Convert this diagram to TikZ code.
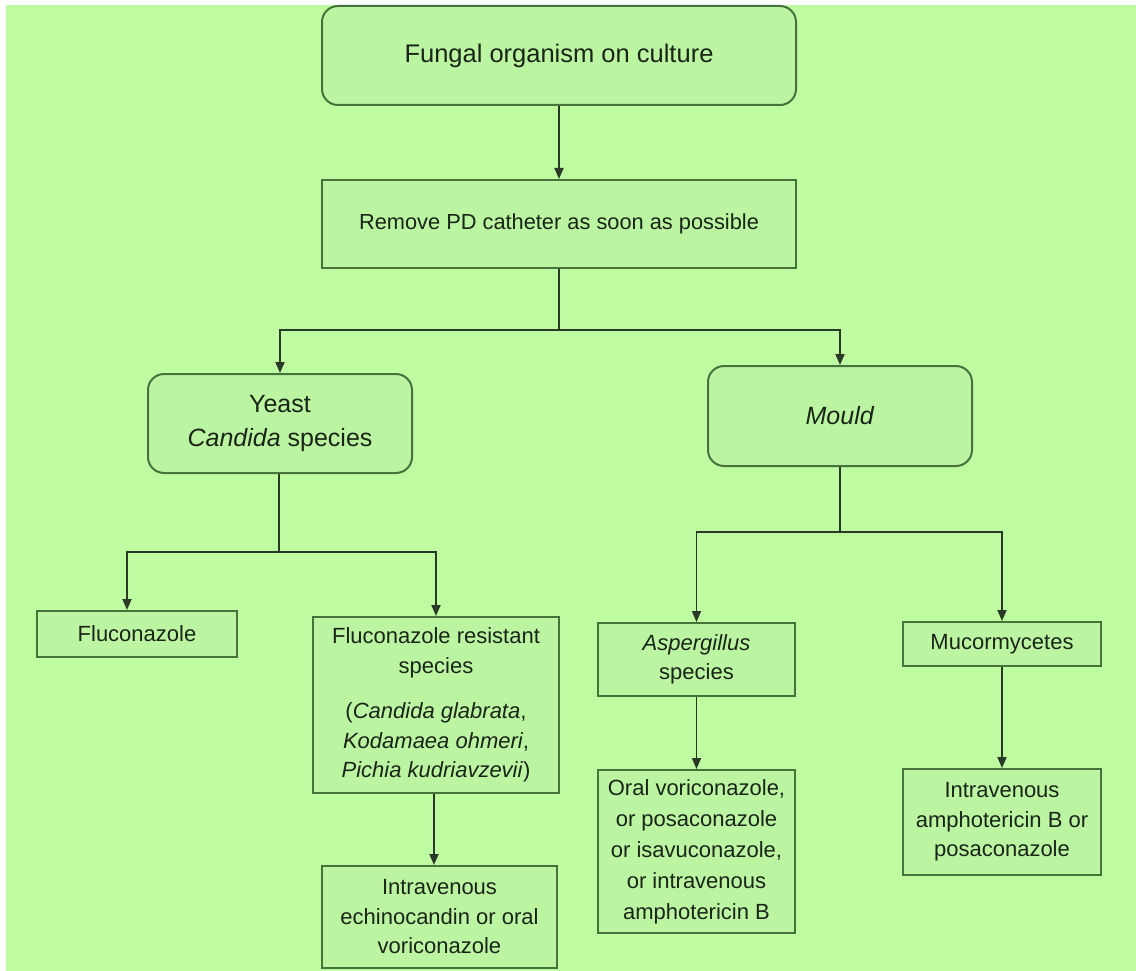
\documentclass[tikz,border=0pt]{standalone}
\usepackage{fontspec}
\setmainfont{Liberation Sans}
\usetikzlibrary{arrows.meta}

\definecolor{bg}{HTML}{BFFBA0}
\definecolor{boxfill}{HTML}{BCF5A2}
\definecolor{boxline}{HTML}{46723B}
\definecolor{linec}{HTML}{2A3828}
\definecolor{txt}{HTML}{1A2418}

\tikzset{
  box/.style={draw=boxline, line width=2pt, fill=boxfill, rectangle,
    inner sep=0pt, align=center, text=txt,
    font=\fontsize{22}{29.5}\selectfont},
  rbox/.style={box, rounded corners=16pt},
  conn/.style={draw=linec, line width=1.8pt},
  arr/.style={conn, -{Triangle[length=11pt,width=9pt]}}
}

\begin{document}
\begin{tikzpicture}[x=1pt,y=-1pt]
  % canvas
  \fill[white] (0,0) rectangle (1136,971);
  \useasboundingbox (0,0) rectangle (1136,971);
  \fill[bg] (6,5) rectangle (1136,971);

  % top level
  \node[rbox, minimum width=474pt, minimum height=99pt,
        font=\fontsize{25.5}{30}\selectfont] (fungal) at (559,55.5)
        {Fungal organism on culture};
  \node[box, minimum width=474pt, minimum height=88pt,
        font=\fontsize{21.8}{29}\selectfont] (remove) at (559,224)
        {Remove PD catheter as soon as possible};

  % second level
  \node[rbox, minimum width=264pt, minimum height=99pt,
        font=\fontsize{25}{34}\selectfont] (yeast) at (280,423.5)
        {Yeast\\\textit{Candida} species};
  \node[rbox, minimum width=264pt, minimum height=100pt,
        font=\fontsize{25}{34}\selectfont] (mould) at (840,416)
        {\textit{Mould}};

  % yeast branch
  \node[box, minimum width=200pt, minimum height=46pt] (fluco) at (137,634)
        {Fluconazole};
  \node[box, minimum width=246pt, minimum height=176pt] (resist) at (436,705)
        {Fluconazole resistant\\species\\[16pt]
         (\textit{Candida glabrata},\\
         \textit{Kodamaea ohmeri},\\
         \textit{Pichia kudriavzevii})};
  \node[box, minimum width=235pt, minimum height=102pt] (echino) at (439.5,917)
        {Intravenous\\echinocandin or oral\\voriconazole};

  % mould branch
  \node[box, minimum width=197pt, minimum height=73pt] (asper) at (696.5,659.5)
        {\textit{Aspergillus}\\species};
  \node[box, minimum width=198pt, minimum height=44pt] (mucor) at (1002,644)
        {Mucormycetes};
  \node[box, minimum width=197pt, minimum height=163pt,
        font=\fontsize{22}{31}\selectfont] (oral) at (696.5,851.5)
        {Oral voriconazole,\\or posaconazole\\or isavuconazole,\\or intravenous\\amphotericin B};
  \node[box, minimum width=198pt, minimum height=106pt] (ampho) at (1002,822)
        {Intravenous\\amphotericin B or\\posaconazole};

  % junction points
  \coordinate (j1) at (559,330);
  \coordinate (j2) at (279,552);
  \coordinate (j3) at (840,532);

  % connectors
  \draw[arr] (fungal) -- (remove);
  \draw[conn] (remove.south) -- (j1);
  \draw[arr] (j1) -| (yeast.north);
  \draw[arr] (j1) -| (mould.north);

  \draw[conn] (yeast.south -| j2) -- (j2);
  \draw[arr] (j2) -| ([xshift=-10pt]fluco.north);
  \draw[arr] (j2) -| (resist.north);
  \draw[arr] ([xshift=-2pt]resist.south) -- ([xshift=-2pt]resist.south |- echino.north);

  \draw[conn] (mould.south) -- (j3);
  \draw[arr] (j3) -| (asper.north);
  \draw[arr] (j3) -| (mucor.north);
  \draw[arr] (asper) -- (oral);
  \draw[arr] (mucor) -- (ampho);
\end{tikzpicture}
\end{document}
